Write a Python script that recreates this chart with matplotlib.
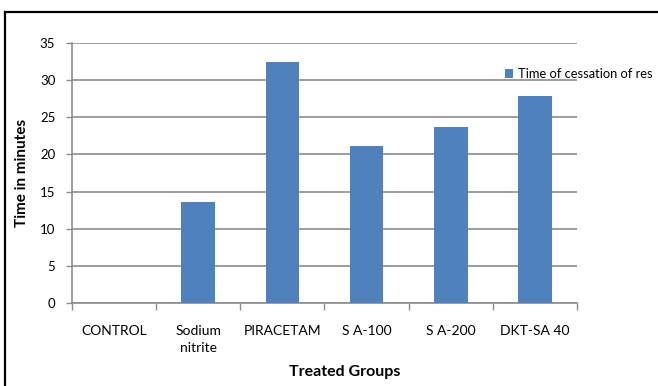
import matplotlib
matplotlib.use('Agg')
import matplotlib.pyplot as plt
from matplotlib.lines import Line2D
import numpy as np

plt.rcParams['font.family'] = ['Lato', 'DejaVu Sans']

# Data
groups = ['CONTROL', 'Sodium\nnitrite', 'PIRACETAM', 'S A-100', 'S A-200', 'DKT-SA 40']
cessation_time = [0, 13.6, 32.5, 21.2, 23.7, 27.9]
series_name = 'Time of cessation of res'
yticks = [0, 5, 10, 15, 20, 25, 30, 35]

bar_color = '#4F81BD'
grid_color = '#8C8C8C'

fig = plt.figure(figsize=(6.58, 3.86), dpi=100)
ax = fig.add_axes([72 / 658, 1 - 303 / 386, 505 / 658, 260 / 386])

x = np.arange(len(groups))
bars = ax.bar(x, cessation_time, width=0.4, color=bar_color, label=series_name, zorder=3)

ax.set_xlim(-0.5, len(groups) - 0.5)
ax.set_ylim(0, 35)
ax.set_yticks(yticks)
ax.yaxis.grid(True, color=grid_color, linewidth=1.2, zorder=0)

# category labels sit between boundary ticks
ax.set_xticks(x)
ax.set_xticklabels(groups, fontsize=10, linespacing=1.5, va='top')
ax.set_xticks(np.arange(-0.5, len(groups)), minor=True)
ax.tick_params(axis='x', which='major', length=0, pad=16)
ax.tick_params(axis='x', which='minor', length=5, width=1, color=grid_color, direction='out')
ax.tick_params(axis='y', length=4, width=1, color=grid_color, pad=8, labelsize=9.5)

for side in ['top', 'right']:
    ax.spines[side].set_visible(False)
for side in ['left', 'bottom']:
    ax.spines[side].set_color(grid_color)
    ax.spines[side].set_linewidth(1.2)

ax.set_ylabel('Time in minutes', fontsize=11, fontweight='bold', labelpad=8)
fig.text(345 / 658, 1 - 372 / 386, 'Treated Groups', fontsize=11.5, fontweight='bold',
         ha='center', va='center')

fig.legend(handles=[bars], labels=[series_name], loc='center left',
           bbox_to_anchor=(505 / 658, 1 - 74 / 386), frameon=False, fontsize=9.3,
           handlelength=0.65, handleheight=0.65, handletextpad=0.35, borderpad=0,
           borderaxespad=0)

# outer frame (left and top edges)
fig.add_artist(Line2D([5 / 658, 5 / 658], [0, 1 - 12 / 386], color='black', linewidth=1.6,
                      transform=fig.transFigure))
fig.add_artist(Line2D([5 / 658, 1], [1 - 12 / 386, 1 - 12 / 386], color='black', linewidth=1.6,
                      transform=fig.transFigure))

fig.savefig('out.png', dpi=100)
